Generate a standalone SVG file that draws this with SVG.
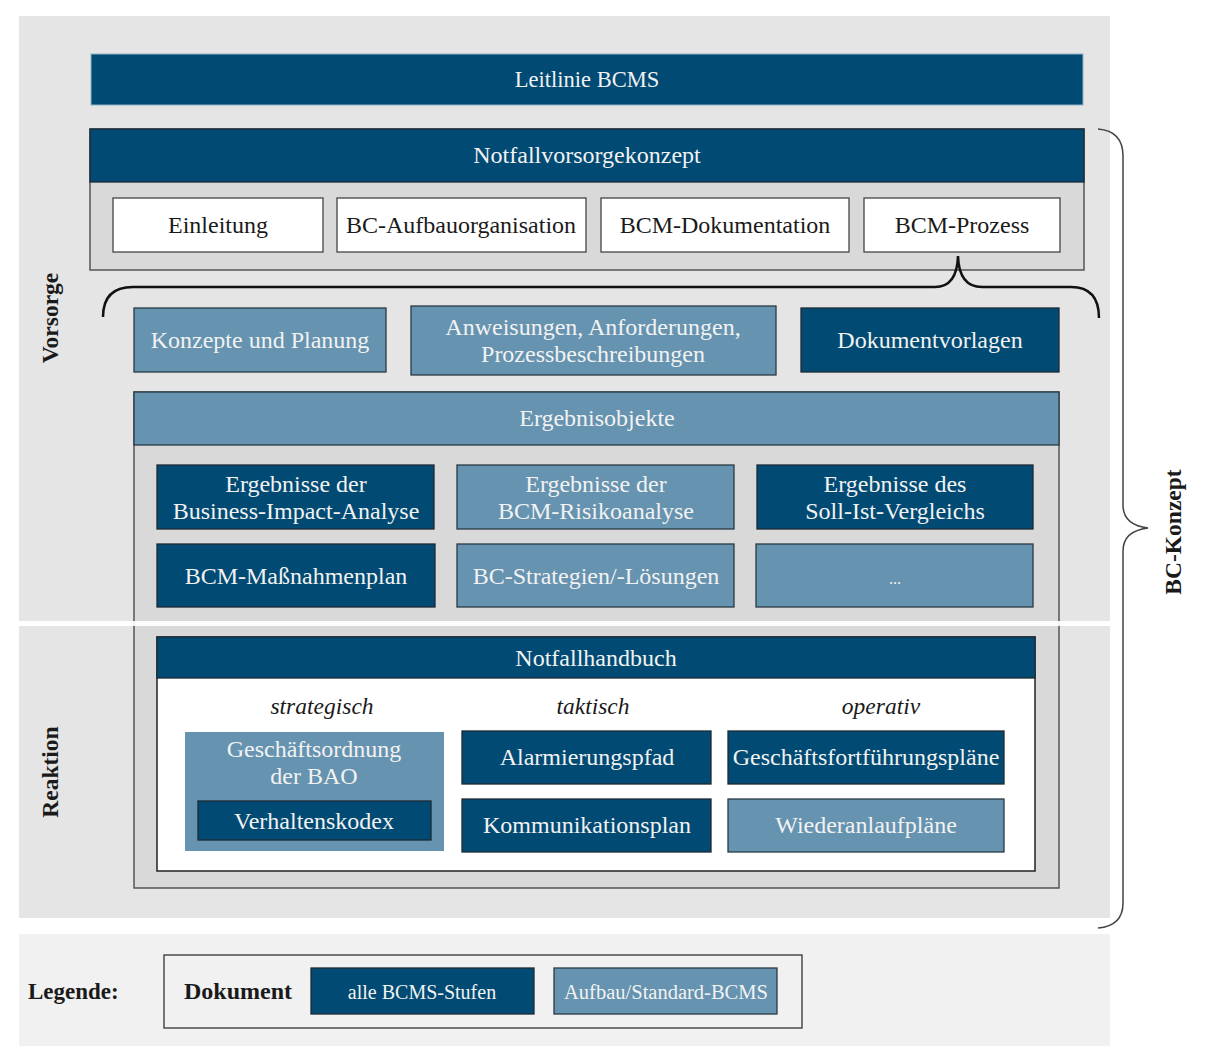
<svg xmlns="http://www.w3.org/2000/svg" width="1210" height="1063" viewBox="0 0 1210 1063">
  <style>
    text { font-family: "Liberation Serif", "DejaVu Serif", serif; }
    .t { font-size: 24px; text-anchor: middle; }
    .w { fill: #f2f2f2; }
    .k { fill: #1a1a1a; }
    .dark { fill: #004a73; stroke: #1c2a33; stroke-width: 1.3; }
    .mid { fill: #6693b0; stroke: #2a3a44; stroke-width: 1.3; }
    .white { fill: #ffffff; stroke: #444; stroke-width: 1.3; }
    .panel { fill: #d9d9d9; stroke: #555; stroke-width: 1.5; }
    .side { font-size: 23.5px; font-weight: bold; text-anchor: middle; fill: #1a1a1a; }
    .it { font-size: 23.5px; font-style: italic; text-anchor: middle; fill: #1a1a1a; }
    .brace { fill: none; stroke: #111; stroke-width: 2.5; }
    .brace2 { fill: none; stroke: #444; stroke-width: 1.5; }
  </style>

  <!-- background bands -->
  <rect x="19" y="16" width="1091" height="605" fill="#e5e5e5"/>
  <rect x="19" y="626" width="1091" height="292" fill="#e5e5e5"/>
  <rect x="19" y="934" width="1091" height="112" fill="#f1f1f1"/>

  <text class="side" transform="translate(58,318) rotate(-90)">Vorsorge</text>
  <text class="side" transform="translate(58,772) rotate(-90)">Reaktion</text>

  <g id="leitlinie">
    <rect x="91" y="54" width="992" height="51" fill="#004a73" stroke="#8fb4cc" stroke-width="1"/>
    <text class="t w" x="587" y="87" style="font-size:22.5px">Leitlinie BCMS</text>
  </g>

  <g id="notfallvorsorgekonzept">
    <rect class="panel" x="90" y="129" width="994" height="141"/>
    <rect class="dark" x="90" y="129" width="994" height="53"/>
    <text class="t w" x="587" y="163">Notfallvorsorgekonzept</text>
  </g>
  <g id="einleitung">
    <rect class="white" x="113" y="198" width="210" height="54"/>
    <text class="t k" x="218" y="233">Einleitung</text>
  </g>
  <g id="aufbauorganisation">
    <rect class="white" x="337" y="198" width="249" height="54"/>
    <text class="t k" x="461" y="233">BC-Aufbauorganisation</text>
  </g>
  <g id="dokumentation">
    <rect class="white" x="601" y="198" width="248" height="54"/>
    <text class="t k" x="725" y="233">BCM-Dokumentation</text>
  </g>
  <g id="prozess">
    <rect class="white" x="864" y="198" width="196" height="54"/>
    <text class="t k" x="962" y="233">BCM-Prozess</text>
  </g>

  <g id="konzepte">
    <rect class="mid" x="134" y="308" width="252" height="64"/>
    <text class="t w" x="260" y="348">Konzepte und Planung</text>
  </g>
  <g id="anweisungen">
    <rect class="mid" x="411" y="306" width="365" height="69"/>
    <text class="t w" x="593" y="335">Anweisungen, Anforderungen,</text>
    <text class="t w" x="593" y="362">Prozessbeschreibungen</text>
  </g>
  <g id="dokumentvorlagen">
    <rect class="dark" x="801" y="308" width="258" height="64"/>
    <text class="t w" x="930" y="348">Dokumentvorlagen</text>
  </g>

  <g id="ergebnisobjekte">
    <rect class="panel" x="134" y="392" width="925" height="496"/>
    <rect class="mid" x="134" y="392" width="925" height="53"/>
    <text class="t w" x="597" y="426">Ergebnisobjekte</text>
  </g>
  <g id="bia">
    <rect class="dark" x="157" y="465" width="277" height="64"/>
    <text class="t w" x="296" y="492">Ergebnisse der</text>
    <text class="t w" x="296" y="519">Business-Impact-Analyse</text>
  </g>
  <g id="risikoanalyse">
    <rect class="mid" x="457" y="465" width="277" height="64"/>
    <text class="t w" x="596" y="492">Ergebnisse der</text>
    <text class="t w" x="596" y="519">BCM-Risikoanalyse</text>
  </g>
  <g id="sollist">
    <rect class="dark" x="757" y="465" width="276" height="64"/>
    <text class="t w" x="895" y="492">Ergebnisse des</text>
    <text class="t w" x="895" y="519">Soll-Ist-Vergleichs</text>
  </g>
  <g id="massnahmenplan">
    <rect class="dark" x="157" y="544" width="278" height="63"/>
    <text class="t w" x="296" y="584">BCM-Maßnahmenplan</text>
  </g>
  <g id="strategien">
    <rect class="mid" x="457" y="544" width="277" height="63"/>
    <text class="t w" x="596" y="584">BC-Strategien/-Lösungen</text>
  </g>
  <g id="weitere">
    <rect class="mid" x="756" y="544" width="277" height="63"/>
    <text class="t w" x="895" y="584" style="font-size:16px">...</text>
  </g>

  <!-- divider between Vorsorge and Reaktion -->
  <rect x="19" y="621" width="1091" height="5" fill="#ffffff" opacity="0.9"/>

  <g id="notfallhandbuch">
    <rect x="157" y="637" width="878" height="234" fill="#ffffff" stroke="#222" stroke-width="1.5"/>
    <rect class="dark" x="157" y="637" width="878" height="41"/>
    <text class="t w" x="596" y="666">Notfallhandbuch</text>
    <text class="it" x="322" y="714">strategisch</text>
    <text class="it" x="593" y="714">taktisch</text>
    <text class="it" x="881" y="714">operativ</text>
  </g>
  <g id="geschaeftsordnung">
    <rect x="185" y="732" width="259" height="119" fill="#6693b0"/>
    <text class="t w" x="314" y="757">Geschäftsordnung</text>
    <text class="t w" x="314" y="784">der BAO</text>
  </g>
  <g id="verhaltenskodex">
    <rect class="dark" x="198" y="801" width="233" height="39"/>
    <text class="t w" x="314" y="829">Verhaltenskodex</text>
  </g>
  <g id="alarmierungspfad">
    <rect class="dark" x="462" y="731" width="249" height="53"/>
    <text class="t w" x="587" y="765">Alarmierungspfad</text>
  </g>
  <g id="kommunikationsplan">
    <rect class="dark" x="462" y="799" width="249" height="53"/>
    <text class="t w" x="587" y="833">Kommunikationsplan</text>
  </g>
  <g id="fortfuehrung">
    <rect class="dark" x="728" y="731" width="276" height="53"/>
    <text class="t w" x="866" y="765">Geschäftsfortführungspläne</text>
  </g>
  <g id="wiederanlauf">
    <rect class="mid" x="728" y="799" width="276" height="53"/>
    <text class="t w" x="866" y="833">Wiederanlaufpläne</text>
  </g>

  <g id="connectors">
    <!-- brace from BCM-Prozess over the document types -->
    <path class="brace" d="M103,317 Q103,287 133,287 L935,287 Q957,287 958,256 Q959,287 982,287 L1071,287 Q1099,287 1099,318"/>
    <!-- brace spanning the BC-Konzept -->
    <path class="brace2" d="M1098,129 Q1123,131 1123,156 L1123,505 Q1123,525 1148,528 Q1123,531 1123,551 L1123,903 Q1123,926 1098,928"/>
  </g>
  <text class="side" transform="translate(1181,532) rotate(-90)">BC-Konzept</text>

  <g id="legende">
    <text x="28" y="999" style="font-size:23px;font-weight:bold;fill:#1a1a1a">Legende:</text>
    <rect x="164" y="955" width="638" height="73" fill="#f1f1f1" stroke="#333" stroke-width="1.3"/>
    <text x="184" y="999" style="font-size:24px;font-weight:bold;fill:#1a1a1a">Dokument</text>
    <rect class="dark" x="311" y="968" width="223" height="46"/>
    <text class="w" x="422" y="999" style="font-size:20px;text-anchor:middle">alle BCMS-Stufen</text>
    <rect class="mid" x="554" y="968" width="223" height="46"/>
    <text class="w" x="666" y="999" style="font-size:20.5px;text-anchor:middle">Aufbau/Standard-BCMS</text>
  </g>
</svg>
